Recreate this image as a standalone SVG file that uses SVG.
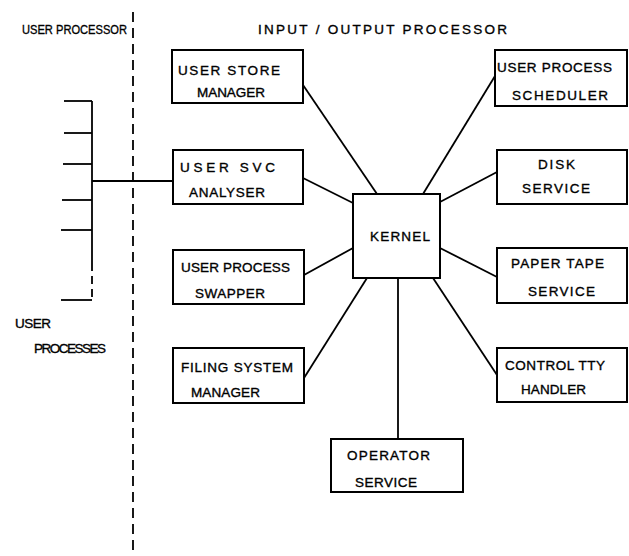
<svg xmlns="http://www.w3.org/2000/svg" width="629" height="556" viewBox="0 0 629 556">
<style>
.box{fill:#fff;stroke:#000;stroke-width:2}
.ln{stroke:#000;stroke-width:1.8;fill:none}
text{font-family:"Liberation Sans",Arial,sans-serif;font-size:13.5px;fill:#000;stroke:#000;stroke-width:0.35}
</style>
<rect width="629" height="556" fill="#fff"/>
<g id="labels">
<text x="22" y="34" textLength="105" lengthAdjust="spacingAndGlyphs">USER PROCESSOR</text>
<text x="258" y="34" textLength="249" lengthAdjust="spacing">INPUT / OUTPUT   PROCESSOR</text>
<text x="15" y="328" textLength="36" lengthAdjust="spacing">USER</text>
<text x="34" y="353" textLength="72" lengthAdjust="spacing">PROCESSES</text>
</g>
<g id="divider">
<line class="ln" x1="133" y1="12" x2="133" y2="556" stroke-dasharray="10 6" stroke-width="2"/>
</g>
<g id="connectors">
<line class="ln" x1="92" y1="101" x2="92" y2="263"/>
<line class="ln" x1="92" y1="263" x2="92" y2="300" stroke-dasharray="8 5"/>
<line class="ln" x1="64" y1="101" x2="92" y2="101"/>
<line class="ln" x1="64" y1="133" x2="92" y2="133"/>
<line class="ln" x1="63" y1="164" x2="92" y2="164"/>
<line class="ln" x1="62" y1="200" x2="92" y2="200"/>
<line class="ln" x1="61" y1="230" x2="92" y2="230"/>
<line class="ln" x1="61" y1="300" x2="92" y2="300"/>
<line class="ln" x1="92" y1="181" x2="173" y2="181"/>
<line class="ln" x1="303" y1="85" x2="377" y2="194"/>
<line class="ln" x1="495" y1="76" x2="423" y2="194"/>
<line class="ln" x1="303" y1="178" x2="353" y2="203"/>
<line class="ln" x1="304" y1="275" x2="353" y2="248"/>
<line class="ln" x1="497" y1="172" x2="440" y2="202"/>
<line class="ln" x1="497" y1="277" x2="440" y2="248"/>
<line class="ln" x1="304" y1="378" x2="367" y2="278"/>
<line class="ln" x1="497" y1="375" x2="433" y2="278"/>
<line class="ln" x1="398" y1="278" x2="398" y2="439"/>
</g>
<g id="kernel">
<rect class="box" x="353" y="194" width="87" height="84"/>
<text x="370" y="241" textLength="60" lengthAdjust="spacing">KERNEL</text>
</g>
<g id="user-store-manager">
<rect class="box" x="172" y="50" width="131" height="53"/>
<text x="178" y="75" textLength="102" lengthAdjust="spacing">USER   STORE</text>
<text x="197" y="97" textLength="68" lengthAdjust="spacing">MANAGER</text>
</g>
<g id="user-svc-analyser">
<rect class="box" x="173" y="150" width="130" height="54"/>
<text x="180" y="172" textLength="95" lengthAdjust="spacing">USER    SVC</text>
<text x="189" y="197" textLength="76" lengthAdjust="spacing">ANALYSER</text>
</g>
<g id="user-process-swapper">
<rect class="box" x="173" y="250" width="131" height="54"/>
<text x="181" y="272" textLength="109" lengthAdjust="spacing">USER  PROCESS</text>
<text x="195" y="298" textLength="70" lengthAdjust="spacing">SWAPPER</text>
</g>
<g id="filing-system-manager">
<rect class="box" x="173" y="348" width="131" height="55"/>
<text x="181" y="372" textLength="112" lengthAdjust="spacing">FILING SYSTEM</text>
<text x="191" y="397" textLength="69" lengthAdjust="spacing">MANAGER</text>
</g>
<g id="user-process-scheduler">
<rect class="box" x="495" y="50" width="132" height="56"/>
<text x="497" y="72" textLength="115" lengthAdjust="spacing">USER  PROCESS</text>
<text x="512" y="100" textLength="96" lengthAdjust="spacing">SCHEDULER</text>
</g>
<g id="disk-service">
<rect class="box" x="497" y="150" width="130" height="54"/>
<text x="538" y="169" textLength="37" lengthAdjust="spacing">DISK</text>
<text x="522" y="193" textLength="68" lengthAdjust="spacing">SERVICE</text>
</g>
<g id="paper-tape-service">
<rect class="box" x="497" y="248" width="130" height="55"/>
<text x="511" y="268" textLength="93" lengthAdjust="spacing">PAPER TAPE</text>
<text x="528" y="296" textLength="67" lengthAdjust="spacing">SERVICE</text>
</g>
<g id="control-tty-handler">
<rect class="box" x="497" y="348" width="130" height="54"/>
<text x="505" y="370" textLength="100" lengthAdjust="spacing">CONTROL TTY</text>
<text x="521" y="394" textLength="65" lengthAdjust="spacing">HANDLER</text>
</g>
<g id="operator-service">
<rect class="box" x="331" y="439" width="132" height="53"/>
<text x="347" y="460" textLength="83" lengthAdjust="spacing">OPERATOR</text>
<text x="355" y="487" textLength="62" lengthAdjust="spacing">SERVICE</text>
</g>
</svg>
